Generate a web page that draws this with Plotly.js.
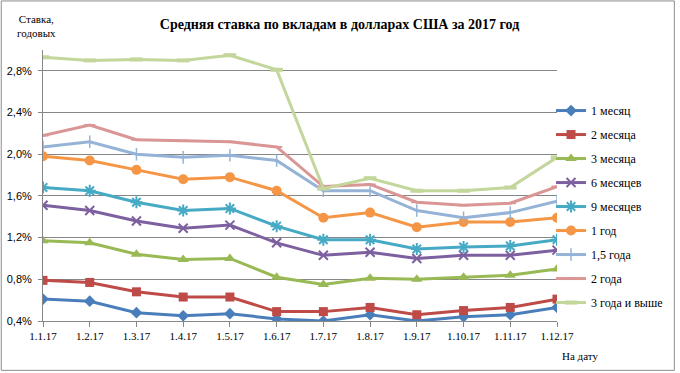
<!DOCTYPE html>
<html>
<head>
<meta charset="utf-8">
<script src="https://cdn.plot.ly/plotly-3.0.1.min.js"></script>
<style>
  html, body { margin: 0; padding: 0; background: #fff; }
  #chart { width: 680px; height: 373px; }
</style>
</head>
<body>
<div id="chart"></div>
<script>
const categories = ['1.1.17','1.2.17','1.3.17','1.4.17','1.5.17','1.6.17','1.7.17','1.8.17','1.9.17','1.10.17','1.11.17','1.12.17'];

const seriesNames = ['1 месяц','2 месяца','3 месяца','6 месяцев','9 месяцев','1 год','1,5 года','2 года','3 года и выше'];

const m1  = [0.61, 0.59, 0.48, 0.45, 0.47, 0.42, 0.40, 0.46, 0.40, 0.44, 0.46, 0.53];
const m2  = [0.79, 0.77, 0.68, 0.63, 0.63, 0.49, 0.49, 0.53, 0.46, 0.50, 0.53, 0.61];
const m3  = [1.17, 1.15, 1.04, 0.99, 1.00, 0.82, 0.75, 0.81, 0.80, 0.82, 0.84, 0.90];
const m6  = [1.51, 1.46, 1.36, 1.29, 1.32, 1.15, 1.03, 1.06, 1.00, 1.03, 1.03, 1.08];
const m9  = [1.68, 1.65, 1.54, 1.46, 1.48, 1.31, 1.18, 1.18, 1.09, 1.11, 1.12, 1.18];
const y1  = [1.98, 1.94, 1.85, 1.76, 1.78, 1.65, 1.39, 1.44, 1.30, 1.35, 1.35, 1.39];
const y15 = [2.07, 2.12, 2.00, 1.97, 1.99, 1.94, 1.65, 1.65, 1.46, 1.39, 1.44, 1.55];
const y2  = [2.18, 2.28, 2.14, 2.13, 2.12, 2.07, 1.69, 1.71, 1.54, 1.51, 1.53, 1.69];
const y3  = [2.93, 2.90, 2.91, 2.90, 2.95, 2.81, 1.67, 1.77, 1.65, 1.65, 1.68, 1.97];

const yTickVals = [0.4, 0.8, 1.2, 1.6, 2.0, 2.4, 2.8];
const yTickText = ['0,4%', '0,8%', '1,2%', '1,6%', '2,0%', '2,4%', '2,8%'];

const seriesValues = [m1, m2, m3, m6, m9, y1, y15, y2, y3];

const SERIF = '"Liberation Serif", "Times New Roman", serif';
const SANS = '"Liberation Sans", Arial, sans-serif';

const styles = [
  {color: '#4A7EBB', symbol: 'diamond', size: 9},
  {color: '#BE4B48', symbol: 'square', size: 9},
  {color: '#98B954', symbol: 'triangle-up', size: 10},
  {color: '#7D60A0', symbol: 'x-thin-open', size: 9, mline: 2},
  {color: '#46AAC5', symbol: 'asterisk-open', size: 10, mline: 2},
  {color: '#F59646', symbol: 'circle', size: 10},
  {color: '#95B3D7', symbol: 'line-ns-open', size: 9, mline: 1.5},
  {color: '#D99694', symbol: 'line-ew-open', size: 8, mline: 2},
  {color: '#C3D69B', symbol: 'line-ew-open', size: 9, mline: 4}
];

const traces = seriesNames.map((name, i) => {
  const s = styles[i];
  const marker = {symbol: s.symbol, size: s.size, color: s.color};
  if (s.mline) marker.line = {color: s.color, width: s.mline};
  return {
    type: 'scatter',
    mode: 'lines+markers',
    name: name,
    legendgroup: 'g' + i,
    x: categories,
    y: seriesValues[i],
    line: {color: s.color, width: 3},
    marker: marker,
    hoverinfo: 'skip'
  };
});

const L = 43, R = 560, T = 50, B = 320.7, W = 680, H = 373;
const pw = R - L, ph = B - T;
const px = v => (v - L) / pw;
const py = v => (B - v) / ph;

const layout = {
  width: W,
  height: H,
  margin: {l: L, r: W - R, t: T, b: H - B, pad: 0},
  paper_bgcolor: '#ffffff',
  plot_bgcolor: '#ffffff',
  showlegend: true,
  title: {
    text: '<b>Средняя ставка по вкладам в долларах США за 2017 год</b>',
    font: {family: SERIF, size: 14, color: '#000'},
    x: 339.5 / W, xref: 'container', xanchor: 'center',
    y: 1 - 24 / H, yref: 'container', yanchor: 'middle'
  },
  xaxis: {
    type: 'category',
    range: [0, categories.length - 1],
    showgrid: false,
    showline: true,
    linecolor: '#868686',
    linewidth: 1,
    ticks: 'outside',
    ticklen: 5,
    tickcolor: '#868686',
    tickfont: {family: SERIF, size: 11, color: '#000'},
    zeroline: false,
    fixedrange: true
  },
  yaxis: {
    range: [0.4, 3.0],
    tickvals: yTickVals,
    ticktext: yTickText,
    showgrid: true,
    gridcolor: '#868686',
    gridwidth: 1,
    showline: true,
    linecolor: '#868686',
    linewidth: 1,
    ticks: 'outside',
    ticklen: 4,
    tickcolor: '#868686',
    ticklabelstandoff: 4,
    tickfont: {family: SANS, size: 11, color: '#000'},
    zeroline: false,
    fixedrange: true
  },
  legend: {
    x: px(554),
    xanchor: 'left',
    y: py(96),
    yanchor: 'top',
    bgcolor: 'rgba(0,0,0,0)',
    borderwidth: 0,
    tracegroupgap: 5,
    font: {family: SERIF, size: 12, color: '#000'},
    itemwidth: 30
  },
  annotations: [
    {
      text: 'Ставка,<br>годовых',
      xref: 'paper', yref: 'paper',
      x: px(36), y: py(26.5),
      xanchor: 'center', yanchor: 'middle',
      showarrow: false,
      align: 'center',
      font: {family: SERIF, size: 11, color: '#000'}
    },
    {
      text: 'На дату',
      xref: 'paper', yref: 'paper',
      x: px(583), y: py(356),
      xanchor: 'center', yanchor: 'middle',
      showarrow: false,
      font: {family: SERIF, size: 11, color: '#000'}
    }
  ],
  shapes: [
    {
      type: 'rect', xref: 'paper', yref: 'paper',
      x0: px(1), x1: px(678), y0: py(370), y1: py(1),
      line: {color: '#8c8c8c', width: 1},
      fillcolor: 'rgba(0,0,0,0)',
      layer: 'below'
    }
  ]
};

Plotly.newPlot('chart', traces, layout, {displayModeBar: false, staticPlot: true});
</script>
</body>
</html>
